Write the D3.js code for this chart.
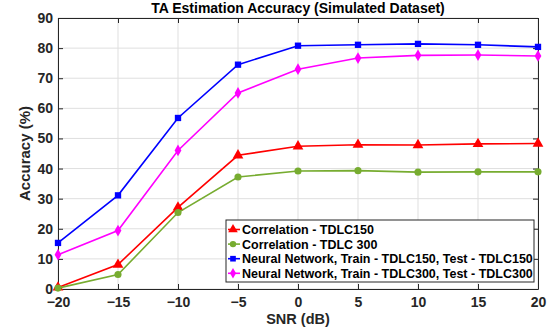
<!DOCTYPE html>
<meta charset="utf-8">
<title>TA Estimation Accuracy</title>
<style>
    body { margin: 0; background: #fff; }
    text { font-family: "Liberation Sans", Arial, sans-serif; font-weight: bold; fill: #262626; }
</style>

<body>
    <script src="https://d3js.org/d3.v7.min.js" charset="utf-8"></script>
    <script>
        // data
        var snr = [-20, -15, -10, -5, 0, 5, 10, 15, 20];
        var corr150 = [0.5, 8.1, 27.1, 44.4, 47.4, 47.9, 47.8, 48.2, 48.3];
        var corr300 = [0.3, 4.8, 25.4, 37.2, 39.2, 39.3, 38.8, 38.9, 38.9];
        var nn150 = [15.3, 31.1, 56.8, 74.5, 80.8, 81.1, 81.4, 81.1, 80.4];
        var nn300 = [11.4, 19.4, 46.0, 65.1, 73.0, 76.7, 77.6, 77.7, 77.4];
        var xTicks = [-20, -15, -10, -5, 0, 5, 10, 15, 20];
        var yTicks = [0, 10, 20, 30, 40, 50, 60, 70, 80, 90];

        var series = [
            { name: "Correlation - TDLC150", values: corr150, color: "#ff0000", marker: d3.symbolTriangle },
            { name: "Correlation - TDLC 300", values: corr300, color: "#77ac30", marker: d3.symbolCircle },
            { name: "Neural Network, Train - TDLC150, Test - TDLC150", values: nn150, color: "#0000ff", marker: d3.symbolSquare },
            { name: "Neural Network, Train - TDLC300, Test - TDLC300", values: nn300, color: "#ff00ff", marker: d3.symbolDiamond }
        ];

        var width = 556,
            height = 327;
        var margin = { top: 18, right: 18, bottom: 38, left: 58 };

        var svg = d3.select("body").append("svg")
            .attr("width", width)
            .attr("height", height);

        var x = d3.scaleLinear().domain([-20, 20]).range([margin.left, width - margin.right]);
        var y = d3.scaleLinear().domain([0, 90]).range([height - margin.bottom, margin.top]);

        // grid
        svg.append("g").selectAll("line").data(xTicks).enter().append("line")
            .attr("x1", d => x(d)).attr("x2", d => x(d))
            .attr("y1", y(0)).attr("y2", y(90))
            .style("stroke", "#dfdfdf").style("stroke-width", 1);
        svg.append("g").selectAll("line").data(yTicks).enter().append("line")
            .attr("x1", x(-20)).attr("x2", x(20))
            .attr("y1", d => y(d)).attr("y2", d => y(d))
            .style("stroke", "#dfdfdf").style("stroke-width", 1);

        // axes, ticks inside, box on
        function styleAxis(g) {
            g.select(".domain").style("stroke", "#262626").style("stroke-width", 1);
            g.selectAll(".tick line").style("stroke", "#262626");
            g.selectAll(".tick text").style("font-size", "14px").style("fill", "#262626")
                .style("font-family", "'Liberation Sans', Arial, sans-serif").style("font-weight", "bold");
        }
        svg.append("g").attr("transform", "translate(0," + y(0) + ")")
            .call(d3.axisBottom(x).tickValues(xTicks).tickSizeInner(-5).tickSizeOuter(0).tickPadding(8))
            .call(styleAxis);
        svg.append("g").attr("transform", "translate(" + x(-20) + ",0)")
            .call(d3.axisLeft(y).tickValues(yTicks).tickSizeInner(-5).tickSizeOuter(0).tickPadding(5))
            .call(styleAxis);
        svg.append("g").attr("transform", "translate(0," + y(90) + ")")
            .call(d3.axisTop(x).tickValues(xTicks).tickSizeInner(-5).tickSizeOuter(0).tickFormat(""))
            .call(styleAxis);
        svg.append("g").attr("transform", "translate(" + x(20) + ",0)")
            .call(d3.axisRight(y).tickValues(yTicks).tickSizeInner(-5).tickSizeOuter(0).tickFormat(""))
            .call(styleAxis);

        // lines + markers
        var line = d3.line().x((d, i) => x(snr[i])).y(d => y(d));
        series.forEach(function (s) {
            svg.append("path")
                .attr("d", line(s.values))
                .style("fill", "none")
                .style("stroke", s.color)
                .style("stroke-width", 1.6);
            svg.append("g").selectAll("path").data(s.values).enter().append("path")
                .attr("transform", (d, i) => "translate(" + x(snr[i]) + "," + y(d) + ")")
                .attr("d", d3.symbol().type(s.marker).size(s.marker === d3.symbolTriangle ? 50 : 40))
                .style("fill", s.color);
        });

        // titles
        svg.append("text")
            .attr("x", (x(-20) + x(20)) / 2).attr("y", 13)
            .attr("text-anchor", "middle")
            .style("font-size", "14px")
            .style("fill", "#000")
            .text("TA Estimation Accuracy (Simulated Dataset)");
        svg.append("text")
            .attr("x", (x(-20) + x(20)) / 2).attr("y", 324)
            .attr("text-anchor", "middle")
            .style("font-size", "14.5px")
            .text("SNR (dB)");
        svg.append("text")
            .attr("transform", "translate(30," + (y(0) + y(90)) / 2 + ") rotate(-90)")
            .attr("text-anchor", "middle")
            .style("font-size", "15px")
            .text("Accuracy (%)");

        // legend
        var legend = svg.append("g").attr("transform", "translate(226,220)");
        legend.append("rect")
            .attr("width", 308).attr("height", 62)
            .style("fill", "#fff").style("stroke", "#262626").style("stroke-width", 1);
        series.forEach(function (s, i) {
            var ly = 9.5 + i * 14.6;
            legend.append("line")
                .attr("x1", 2).attr("x2", 14).attr("y1", ly).attr("y2", ly)
                .style("stroke", s.color).style("stroke-width", 1.6);
            legend.append("path")
                .attr("transform", "translate(7," + ly + ")")
                .attr("d", d3.symbol().type(s.marker).size(s.marker === d3.symbolTriangle ? 40 : 32))
                .style("fill", s.color);
            legend.append("text")
                .attr("x", 16).attr("y", ly + 4.5)
                .style("font-size", "12.5px")
                .style("fill", "#000")
                .text(s.name);
        });
    </script>
</body>
